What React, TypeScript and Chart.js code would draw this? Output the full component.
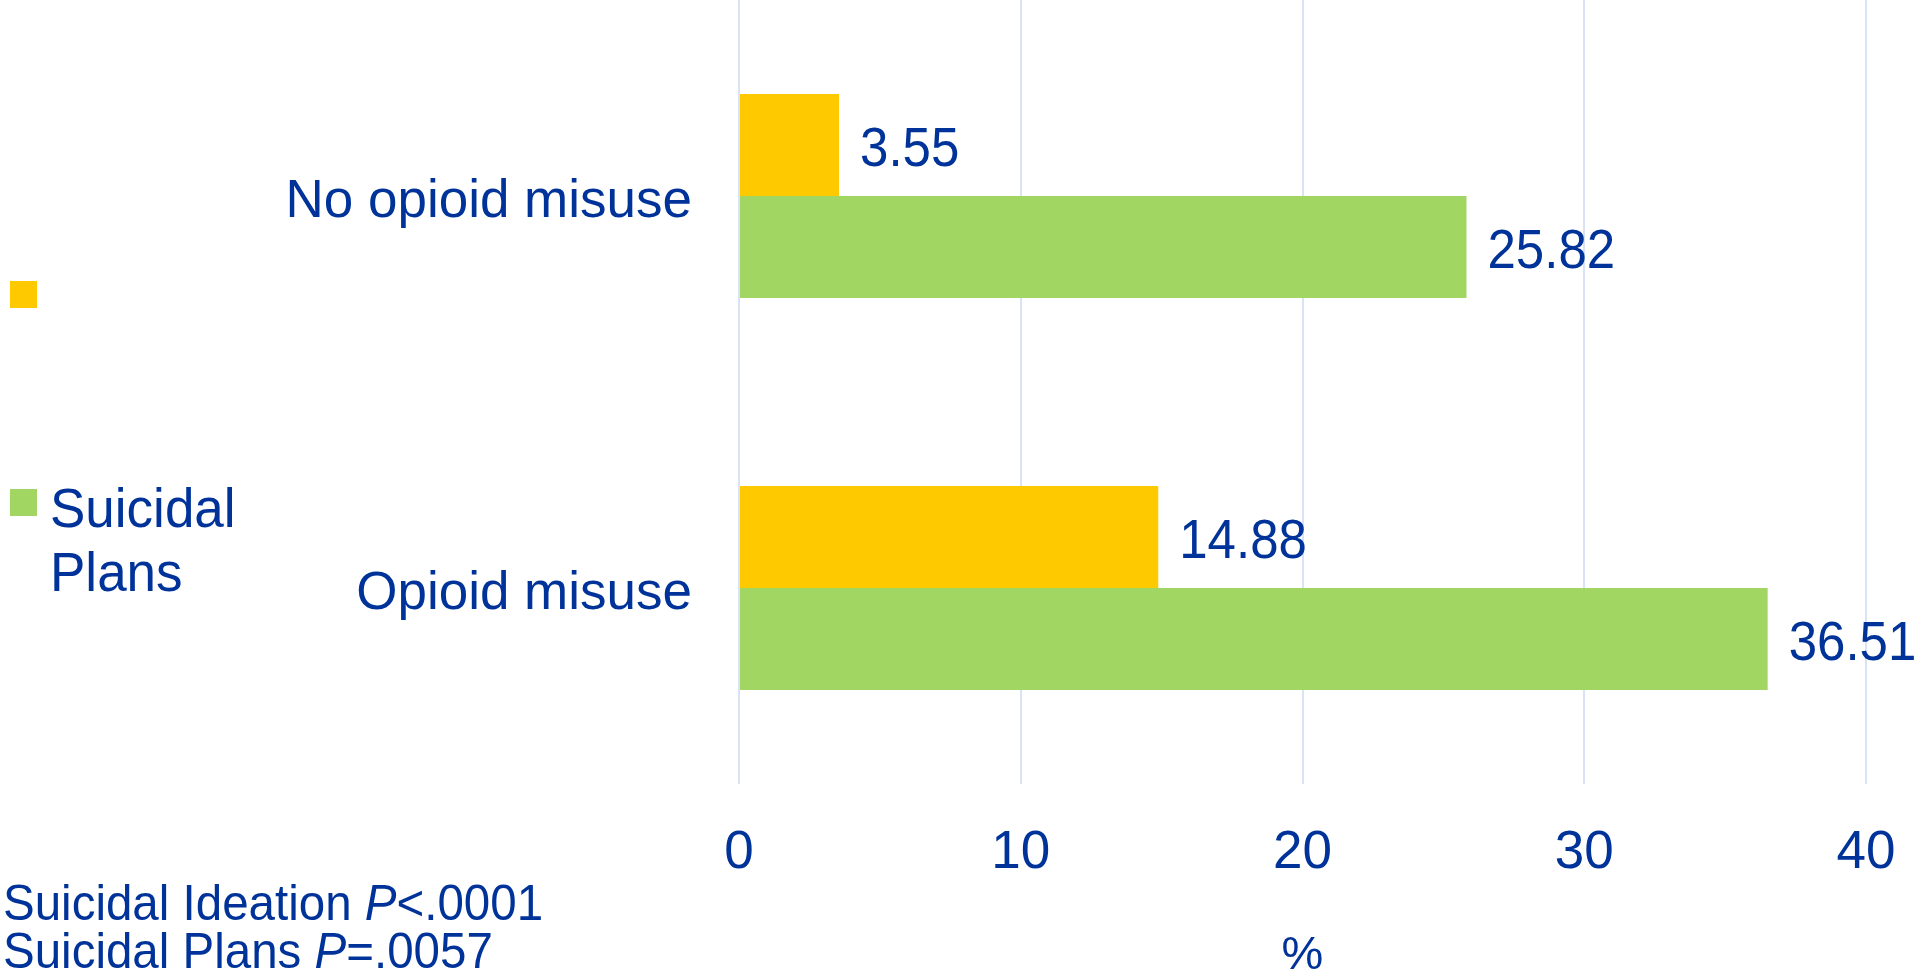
import React, { useEffect, useRef } from 'react';
import { Chart, registerables } from 'chart.js';

Chart.register(...registerables);

// ---- data ----
const categories = ['No opioid misuse', 'Opioid misuse'];
const seriesNames = ['Suicidal Ideation', 'Suicidal Plans'];
const ideationValues = [3.55, 14.88];
const plansValues = [25.82, 36.51];
const legendTexts: string[][] = [[], ['Suicidal', 'Plans']];
const xTickValues = [0, 10, 20, 30, 40];
const xTitle = '%';
const pNotes = [
  [
    { t: 'Suicidal Ideation ', i: false },
    { t: 'P', i: true },
    { t: '<.0001', i: false },
  ],
  [
    { t: 'Suicidal Plans ', i: false },
    { t: 'P', i: true },
    { t: '=.0057', i: false },
  ],
];

// ---- style ----
const FONT = "'Liberation Sans', Arial, sans-serif";
const BLUE = '#003399';
const YELLOW = '#FFC900';
const GREEN = '#A2D662';
const GRID = '#D8E3F7';

const W = 1921;
const H = 976;

// draw text slightly taller than the font's natural proportions (as in the reference)
function tallText(ctx: CanvasRenderingContext2D, text: string, x: number, y: number, sy: number) {
  ctx.save();
  ctx.translate(x, y);
  ctx.scale(1, sy);
  ctx.fillText(text, 0, 0);
  ctx.restore();
}

const decorPlugin = {
  id: 'decor',
  afterDatasetsDraw(chart: any) {
    const ctx = chart.ctx;
    ctx.save();
    ctx.fillStyle = BLUE;
    ctx.font = `51px ${FONT}`;
    ctx.textAlign = 'left';
    ctx.textBaseline = 'middle';
    chart.data.datasets.forEach((ds: any, di: number) => {
      const meta = chart.getDatasetMeta(di);
      meta.data.forEach((bar: any, i: number) => {
        const v = ds.data[i] as number;
        tallText(ctx, v.toFixed(2), bar.x + 21, bar.y + 6, 1.08);
      });
    });
    ctx.restore();
  },
  afterDraw(chart: any) {
    const ctx = chart.ctx;
    ctx.save();
    // legend
    const legendY = [281, 489];
    chart.data.datasets.forEach((ds: any, di: number) => {
      const y = legendY[di];
      ctx.fillStyle = ds.backgroundColor;
      ctx.fillRect(10, y, 27, 27);
      ctx.fillStyle = BLUE;
      ctx.font = `53px ${FONT}`;
      ctx.textBaseline = 'alphabetic';
      ctx.textAlign = 'left';
      legendTexts[di].forEach((line, li) => {
        tallText(ctx, line, 50, y + 38 + li * 64, 1.05);
      });
    });
    // p-value notes
    const baselines = [920, 968];
    pNotes.forEach((parts, li) => {
      let x = 3;
      parts.forEach((p) => {
        ctx.font = `${p.i ? 'italic ' : ''}47.5px ${FONT}`;
        ctx.fillStyle = BLUE;
        tallText(ctx, p.t, x, baselines[li], 1.05);
        x += ctx.measureText(p.t).width;
      });
    });
    ctx.restore();
  },
};

export default function App() {
  const ref = useRef<HTMLCanvasElement | null>(null);

  useEffect(() => {
    document.body.style.margin = '0';
    document.body.style.overflow = 'hidden';
    const canvas = ref.current;
    if (!canvas) return;
    const chart = new Chart(canvas, {
      type: 'bar',
      data: {
        labels: categories,
        datasets: [
          {
            label: seriesNames[0],
            data: ideationValues,
            backgroundColor: YELLOW,
            borderWidth: 0,
            categoryPercentage: 0.52,
            barPercentage: 1.0,
          },
          {
            label: seriesNames[1],
            data: plansValues,
            backgroundColor: GREEN,
            borderWidth: 0,
            categoryPercentage: 0.52,
            barPercentage: 1.0,
          },
        ],
      },
      options: {
        indexAxis: 'y',
        responsive: false,
        maintainAspectRatio: false,
        devicePixelRatio: 1,
        animation: false,
        layout: { padding: { left: 0, right: 55, top: 0, bottom: 0 } },
        plugins: {
          legend: { display: false },
          tooltip: { enabled: false },
          title: { display: false },
        },
        scales: {
          x: {
            type: 'linear',
            min: xTickValues[0],
            max: xTickValues[xTickValues.length - 1],
            afterBuildTicks: (scale: any) => {
              scale.ticks = xTickValues.map((v) => ({ value: v }));
            },
            ticks: {
              color: BLUE,
              font: { family: FONT, size: 53, lineHeight: 1 },
              padding: 43,
              maxRotation: 0,
            },
            grid: { color: GRID, lineWidth: 2, drawTicks: false },
            border: { display: false },
            title: {
              display: true,
              text: xTitle,
              color: BLUE,
              font: { family: FONT, size: 47, lineHeight: 0.84 },
              padding: 0,
            },
            afterFit: (scale: any) => {
              scale.height = 192;
              scale.paddingLeft = 0;
              scale.paddingRight = 0;
            },
          },
          y: {
            type: 'category',
            offset: true,
            ticks: {
              color: BLUE,
              font: { family: FONT, size: 53 },
              padding: 47,
              labelOffset: 6,
            },
            grid: { display: false, drawTicks: false },
            border: { display: false },
            afterFit: (scale: any) => {
              scale.width = 739;
              scale.paddingTop = 0;
              scale.paddingBottom = 0;
            },
          },
        },
      },
      plugins: [decorPlugin],
    } as any);
    return () => chart.destroy();
  }, []);

  return (
    <div style={{ width: W, height: H, background: '#fff' }}>
      <canvas ref={ref} width={W} height={H} style={{ display: 'block' }} />
    </div>
  );
}
